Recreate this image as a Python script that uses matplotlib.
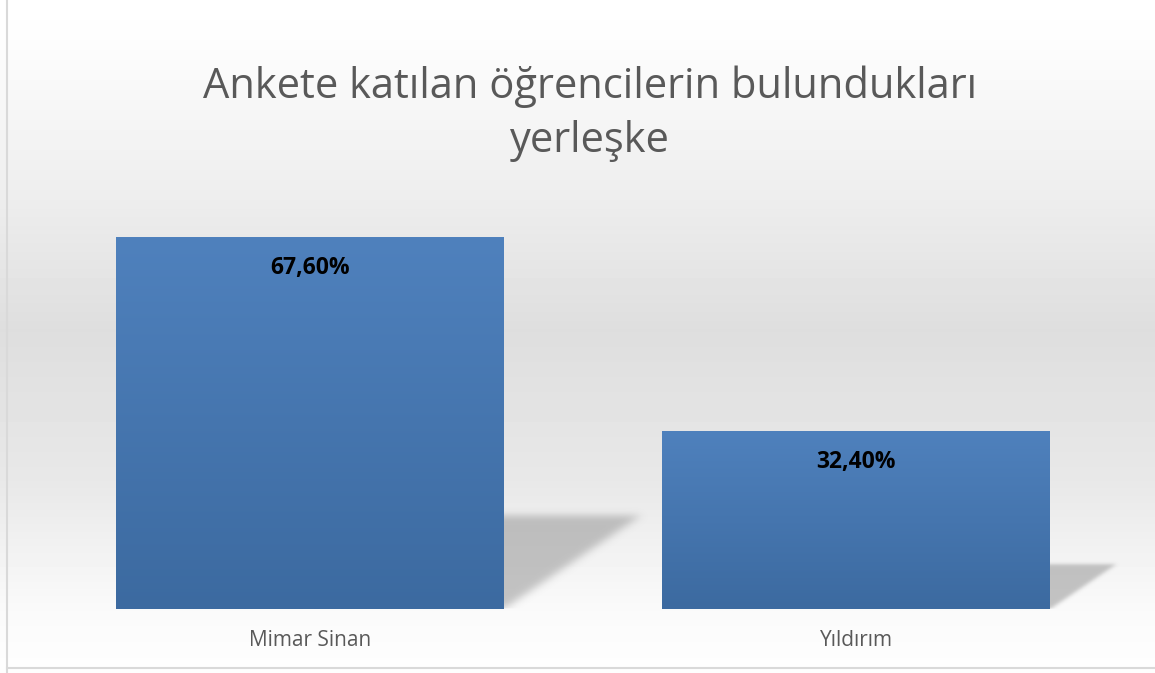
import numpy as np
import matplotlib.pyplot as plt

categories = ['Mimar Sinan', 'Yıldırım']
values = [67.6, 32.4]
value_labels = ['67,60%', '32,40%']
title = 'Ankete katılan öğrencilerin bulundukları\nyerleşke'

W, H = 1155, 673
fig = plt.figure(figsize=(W / 100, H / 100), dpi=100)

# background gradient (white -> light gray -> white)
bg = fig.add_axes([0, 0, 1, 1])
rows = np.arange(H)
stops_y = [0, 40, 200, 330, 480, 610, 673]
stops_v = [255, 253, 237, 222, 232, 250, 254]
col = np.interp(rows, stops_y, stops_v) / 255.0
img = np.repeat(col[:, None], 2, axis=1)
bg.imshow(img, cmap='gray', vmin=0, vmax=1, aspect='auto', extent=[0, 1, 0, 1], origin='upper')
bg.set_xlim(0, 1)
bg.set_ylim(0, 1)
bg.axis('off')
# chart border
bg.plot([7 / W, 7 / W], [0, 1], color='#d9d9d9', lw=1.5)
bg.plot([7 / W, 1], [1 - 668 / H, 1 - 668 / H], color='#d9d9d9', lw=1.5)

# plot area
ax = fig.add_axes([37 / W, (H - 609) / H, 1092 / W, 440 / H])
ax.set_xlim(-0.5, 1.5)
ax.set_ylim(0, 80)
ax.axis('off')

width = 0.71
x = np.arange(len(categories))


def blur(a, r):
    k = np.exp(-0.5 * (np.arange(-3 * r, 3 * r + 1) / r) ** 2)
    k /= k.sum()
    a = np.apply_along_axis(lambda m: np.convolve(m, k, mode='same'), 0, a)
    a = np.apply_along_axis(lambda m: np.convolve(m, k, mode='same'), 1, a)
    return a


# soft perspective shadows to the right of each bar
for xi, v in zip(x, values):
    x0 = xi + width / 2
    tip = 0.0037 * v
    top = 0.25 * v
    bx0, bx1 = x0 - 0.4 * tip, x0 + tip * 1.3
    by0, by1 = -0.1 * top, top * 1.25
    nx, ny = 200, 140
    gx = np.linspace(bx0, bx1, nx)
    gy = np.linspace(by1, by0, ny)
    XX, YY = np.meshgrid(gx, gy)
    u = (XX - x0) / tip
    w = YY / top
    # triangle: horizontal top edge, diagonal from bar foot to tip
    mask = ((w <= 1.0) & (w >= np.maximum(u, 0)) & (YY >= 0)).astype(float)
    mask = blur(mask, 4)
    mask[YY < 0] = 0
    rgba = np.zeros((ny, nx, 4))
    rgba[..., :3] = 0.55
    rgba[..., 3] = mask * 0.5
    ax.imshow(rgba, aspect='auto', extent=[bx0, bx1, by0, by1], zorder=1,
              interpolation='bilinear')

bars = ax.bar(x, values, width=width, color='#4a7ab5', zorder=2)

# vertical gradient fill on the bars
grad = np.linspace(0, 1, 256)[:, None]
c_top = np.array([79, 129, 189]) / 255
c_bot = np.array([60, 106, 160]) / 255
gimg = c_top[None, None, :] * (1 - grad[:, :, None]) + c_bot[None, None, :] * grad[:, :, None]
for b in bars:
    bx, by = b.get_x(), b.get_y()
    im = ax.imshow(gimg, aspect='auto', zorder=3,
                   extent=[bx, bx + b.get_width(), by, by + b.get_height()], origin='upper')
    im.set_clip_path(b)

ax.set_xlim(-0.5, 1.5)
ax.set_ylim(0, 80)

for xi, v, lab in zip(x, values, value_labels):
    ax.annotate(lab, (xi, v), xytext=(0, -22.5), textcoords='offset points',
                ha='center', va='center', fontsize=16.5, fontweight='bold',
                family='Open Sans', color='black', zorder=4)

for xi, c in zip(x, categories):
    ax.annotate(c, (xi, 0), xytext=(0, -23), textcoords='offset points',
                ha='center', va='center', fontsize=15, family='Open Sans',
                color='#595959')

fig.text(590 / W, 1 - 114 / H, title, ha='center', va='center', fontsize=30,
         family='Open Sans', color='#595959', linespacing=1.38)

fig.savefig('out.png', dpi=100)
